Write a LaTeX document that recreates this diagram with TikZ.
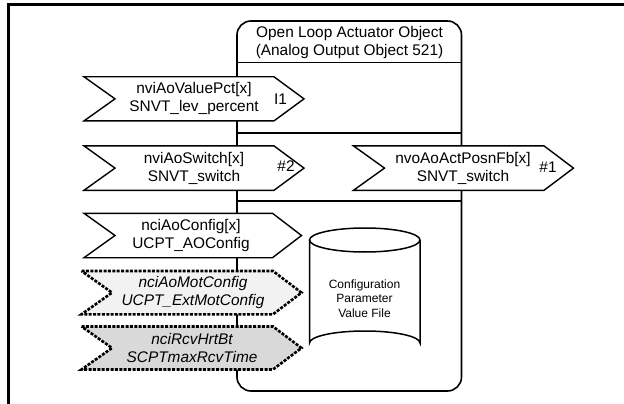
\documentclass[tikz,border=0pt]{standalone}
\usepackage{fontspec}
\setmainfont{Liberation Sans}
\tikzset{
  frameline/.style={line width=2.7pt},
  objbox/.style={line width=1.6pt, rounded corners=14pt},
  sepline/.style={line width=1.6pt},
  pentsolid/.style={draw=black, fill=white, line width=1.4pt, line join=miter},
  pentdash/.style={draw=black, line width=2.6pt, dash pattern=on 3pt off 1.4pt, line join=miter},
  lbl/.style={align=center, inner sep=0pt, font=\fontsize{15.4}{18}\selectfont},
  lbli/.style={align=center, inner sep=0pt, font=\fontsize{15.4}{18}\selectfont\itshape},
  tag/.style={inner sep=0pt, font=\fontsize{15.4}{18}\selectfont},
  cyltext/.style={align=center, inner sep=0pt, font=\fontsize{12}{14.6}\selectfont},
  cyl/.style={line width=1.5pt},
}
% \pentshape{style}{left}{top}{bottom}{bodyright}{tip}{notch}
\newcommand{\pentshape}[7]{%
  \path[#1] (#2,#3) -- (#5,#3) -- (#6,{(#3+#4)/2}) -- (#5,#4) -- (#2,#4) -- (#7,{(#3+#4)/2}) -- cycle;}
\begin{document}
\begin{tikzpicture}[x=1pt,y=-1pt]
\useasboundingbox (0,0) rectangle (624,404);
% outer frame (top and left only)
\draw[frameline] (8.5,404) -- (8.5,4.3) -- (624,4.3);
% object box
\draw[objbox] (237,21) rectangle (461.5,391);
\draw[sepline] (237,62.5) -- (461.5,62.5);
\draw[sepline] (237,132.7) -- (461.5,132.7);
\draw[sepline] (237,200.7) -- (461.5,200.7);
\node[lbl] (title) at (349.5,42.5) {Open Loop Actuator Object\\(Analog Output Object 521)};
% pentagons
\pentshape{pentsolid}{84}{76.8}{120.9}{274}{304}{115}
\node[lbl] (nvi1) at (194,98.5) {nviAoValuePct[x]\\SNVT\_lev\_percent};
\node[tag] (t1) at (280.5,99) {I1};
\pentshape{pentsolid}{84}{145.9}{190.3}{274}{304}{115}
\node[lbl] (nvi2) at (194,168) {nviAoSwitch[x]\\SNVT\_switch};
\node[tag] (t2) at (286,166) {\#2};
\pentshape{pentsolid}{353.5}{145.9}{190.3}{544}{573.5}{384.5}
\node[lbl] (nvo1) at (463,168) {nvoAoActPosnFb[x]\\SNVT\_switch};
\node[tag] (t3) at (548,167) {\#1};
\pentshape{pentsolid}{84}{213.3}{257.7}{272.5}{301.5}{115}
\node[lbl] (nci1) at (191,235.5) {nciAoConfig[x]\\UCPT\_AOConfig};
\pentshape{pentdash,fill={rgb,255:red,242;green,242;blue,242}}{81.5}{271}{314.3}{273}{301.5}{112}
\node[lbli] (nci2) at (193,292.7) {nciAoMotConfig\\UCPT\_ExtMotConfig};
\pentshape{pentdash,fill={rgb,255:red,217;green,217;blue,217}}{81.5}{326.5}{369.5}{273}{301.5}{112}
\node[lbli] (nci3) at (192,348) {nciRcvHrtBt\\SCPTmaxRcvTime};
% cylinder
\draw[cyl, fill=white] (309.5,240) -- (309.5,343) arc[start angle=180, end angle=360, x radius=55.25, y radius=12] -- (420,240);
\draw[cyl] (364.75,240) ellipse[x radius=55.25, y radius=12];
\node[cyltext] (cpvf) at (364.5,298.5) {Configuration\\Parameter\\Value File};
\end{tikzpicture}
\end{document}
